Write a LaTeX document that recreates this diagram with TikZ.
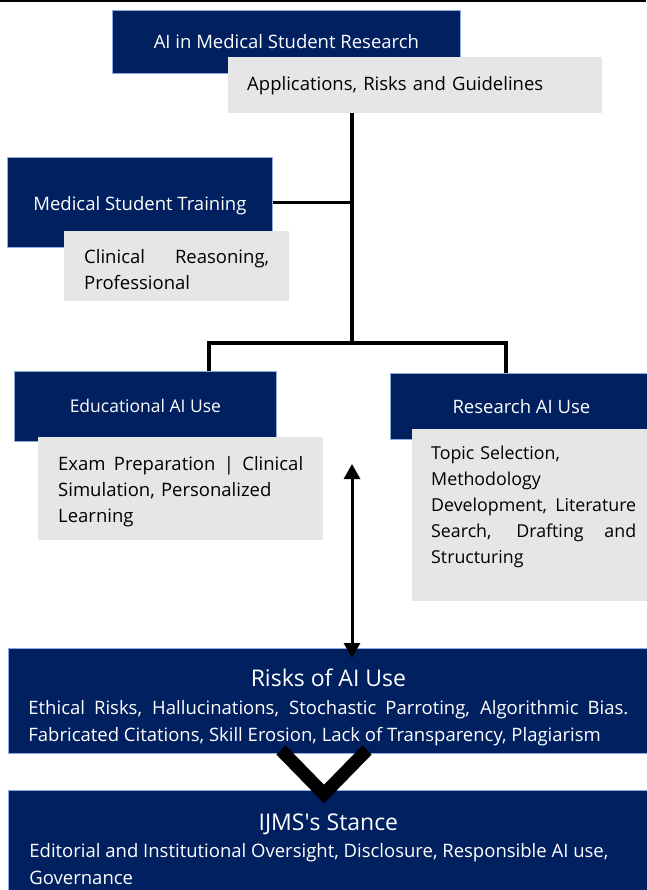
\documentclass[tikz,border=0pt]{standalone}
\usepackage{fontspec}
\setmainfont{Open Sans}
\usetikzlibrary{arrows.meta, positioning}

\definecolor{navy}{RGB}{0,32,96}
\definecolor{navyedge}{RGB}{143,170,220}
\definecolor{lightgrey}{RGB}{230,230,230}

\newcommand{\bodysize}{\fontsize{18.5}{26}\selectfont}
\newcommand{\narrowsize}{\fontsize{17.8}{26}\selectfont}
\newcommand{\listsize}{\fontsize{18.5}{27}\selectfont}
\newcommand{\smallhead}{\fontsize{17.5}{22}\selectfont}
\newcommand{\headsize}{\fontsize{23}{29}\selectfont}
% a justified line: spaces stretched to the given width
\newcommand{\spreadline}[2]{\makebox[#1][s]{\spaceskip=0pt\relax\xspaceskip=0pt\relax#2}}

\begin{document}
\begin{tikzpicture}[
    x=1pt, y=-1pt,
    heading/.style={draw=navyedge, line width=0.8pt, fill=navy, text=white, anchor=north west, inner sep=0pt, font=\bodysize},
    detail/.style={fill=lightgrey, anchor=north west, inner ysep=0pt, inner xsep=20pt, font=\bodysize, align=left},
    link/.style={line width=3.6pt},
    flow/.style={{Triangle[length=15pt,width=16pt]}-{Triangle[length=15pt,width=16pt]}, line width=3pt},
    chevron/.style={line width=13pt, miter limit=10}
]
\useasboundingbox (0,0) rectangle (646,890);

\draw[line width=1.2pt] (0,1) -- (646,1);

% overview at the top
\node[heading, minimum width=348pt, minimum height=63pt] (title) at (112,10) {AI in Medical Student Research};
\node[detail, minimum height=56pt, text width=336pt, inner xsep=19pt] (titledetail) at (228,57) {Applications, Risks and Guidelines};

% training branch
\node[heading, minimum width=265pt, minimum height=90pt] (training) at (7,157) {\rule{0pt}{20pt}Medical Student Training};
\node[detail, minimum height=70pt, text width=185pt] (trainingdetail) at (64,231)
    {\rule{0pt}{20pt}\spreadline{185pt}{Clinical Reasoning,}\\Professional};

% the two uses
\node[heading, minimum width=262pt, minimum height=70pt, font=\smallhead] (eduuse) at (14,371) {Educational AI Use};
\node[detail, minimum height=103pt, text width=245pt] (edudetail) at (38,437)
    {\rule{0pt}{20pt}\spreadline{245pt}{Exam Preparation | Clinical}\\Simulation, Personalized\\Learning};

\node[heading, minimum width=262pt, minimum height=66pt] (resuse) at (390,373) {Research AI Use};
\node[detail, minimum height=172pt, text width=205pt, inner xsep=19pt, font=\narrowsize] (resdetail) at (412,429)
    {Topic Selection,\\Methodology\\\spreadline{205pt}{Development, Literature}\\\spreadline{205pt}{Search, Drafting and}\\Structuring\rule[-21pt]{0pt}{1pt}};

% the two wide boxes
\node[heading, minimum width=640pt, minimum height=118pt, align=center, font=\listsize] (stance) at (8,790)
    {{\headsize IJMS\textquotesingle s Stance}\\
     \makebox[598pt][l]{Editorial and Institutional Oversight, Disclosure, Responsible AI use,}\\
     \makebox[598pt][l]{Governance}};

\node[heading, minimum width=640pt, minimum height=105pt, align=center, font=\listsize] (risks) at (8,648)
    {{\headsize\rule{0pt}{30pt}Risks of AI Use}\\[1pt]
     \spreadline{600pt}{Ethical Risks, Hallucinations, Stochastic Parroting, Algorithmic Bias.}\\
     \makebox[600pt][l]{Fabricated Citations, Skill Erosion, Lack of Transparency, Plagiarism}};

\coordinate (vleft) at (281,750);
\coordinate (vtip) at (324,794);
\coordinate (vright) at (367,750);
\draw[chevron] (vleft) -- (vtip) -- (vright);

% connectors
\coordinate (split) at (352,343);
\coordinate (eduknee) at (209,343);
\coordinate (resknee) at (506,343);
\draw[link] (titledetail.south -| split) -- (split);
\draw[link] (training.east) -- (training.east -| split);
\draw[link] (eduuse.north -| eduknee) -- (eduknee) -- (resknee) -- (resuse.north -| resknee);

\coordinate (arrowtop) at (352,464);
\coordinate (arrowend) at (352,658);
\draw[flow] (arrowtop) -- (arrowend);

\end{tikzpicture}
\end{document}
